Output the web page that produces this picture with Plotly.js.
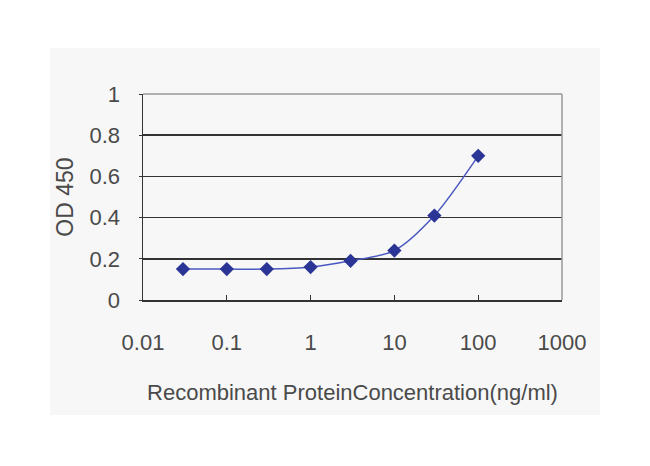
<!DOCTYPE html>
<html>
<head>
<meta charset="utf-8">
<script src="https://cdn.plot.ly/plotly-3.0.1.min.js"></script>
<style>html,body{margin:0;padding:0;background:#fff;}</style>
</head>
<body>
<div id="chart" style="width:650px;height:466px;"></div>
<script>
const concentrations = [0.03, 0.1, 0.3, 1, 3, 10, 30, 100];
const od450 = [0.15, 0.15, 0.15, 0.16, 0.19, 0.24, 0.41, 0.70];
const xTickVals = [0.01, 0.1, 1, 10, 100, 1000];
const xTickText = ['0.01', '0.1', '1', '10', '100', '1000'];
const yTickVals = [0, 0.2, 0.4, 0.6, 0.8, 1];
const yTickText = ['0', '0.2', '0.4', '0.6', '0.8', '1'];

const trace = {
  x: concentrations,
  y: od450,
  type: 'scatter',
  mode: 'lines+markers',
  line: {color: '#4a59c0', width: 1.5, shape: 'spline', smoothing: 0.8},
  marker: {symbol: 'diamond', size: 11, color: '#2a3596', line: {width: 0}},
  hoverinfo: 'skip'
};

const layout = {
  width: 650, height: 466,
  margin: {l: 143, r: 88, t: 94, b: 166},
  paper_bgcolor: '#ffffff',
  plot_bgcolor: '#ffffff',
  showlegend: false,
  font: {family: 'Liberation Sans, Arial, sans-serif', color: '#444'},
  xaxis: {
    type: 'log', range: [-2, 3],
    tickvals: xTickVals, ticktext: xTickText,
    ticks: 'inside', ticklen: 5, tickcolor: '#333', tickwidth: 1,
    showgrid: false, zeroline: false,
    showline: true, linecolor: '#333', linewidth: 1.5,
    tickfont: {size: 22, color: '#4a4a4a'},
    ticklabelstandoff: 22,
    title: {text: 'Recombinant ProteinConcentration(ng/ml)', font: {size: 22, color: '#4a4a4a'}, standoff: 30}
  },
  yaxis: {
    range: [0, 1],
    tickvals: yTickVals, ticktext: yTickText,
    ticks: 'outside', ticklen: 3, tickcolor: '#333',
    showgrid: true, gridcolor: '#333', gridwidth: 1.5,
    zeroline: false,
    showline: true, linecolor: '#333', linewidth: 1.5,
    tickfont: {size: 22, color: '#4a4a4a'},
    ticklabelstandoff: 14,
    title: {text: 'OD 450', font: {size: 23, color: '#4a4a4a'}, standoff: 9}
  },
  shapes: [
    {type: 'rect', xref: 'paper', yref: 'paper', x0: -0.222, x1: 1.091, y0: -0.558, y1: 1.223,
     fillcolor: '#f7f7f7', line: {width: 0}, layer: 'below'},
    {type: 'line', xref: 'paper', yref: 'paper', x0: 0, x1: 1, y0: 1, y1: 1,
     line: {color: '#999', width: 1.5}, layer: 'above'},
    {type: 'line', xref: 'paper', yref: 'paper', x0: 1, x1: 1, y0: 0, y1: 1,
     line: {color: '#999', width: 1.5}, layer: 'above'}
  ]
};

Plotly.newPlot('chart', [trace], layout, {displayModeBar: false, staticPlot: true});
</script>
</body>
</html>
